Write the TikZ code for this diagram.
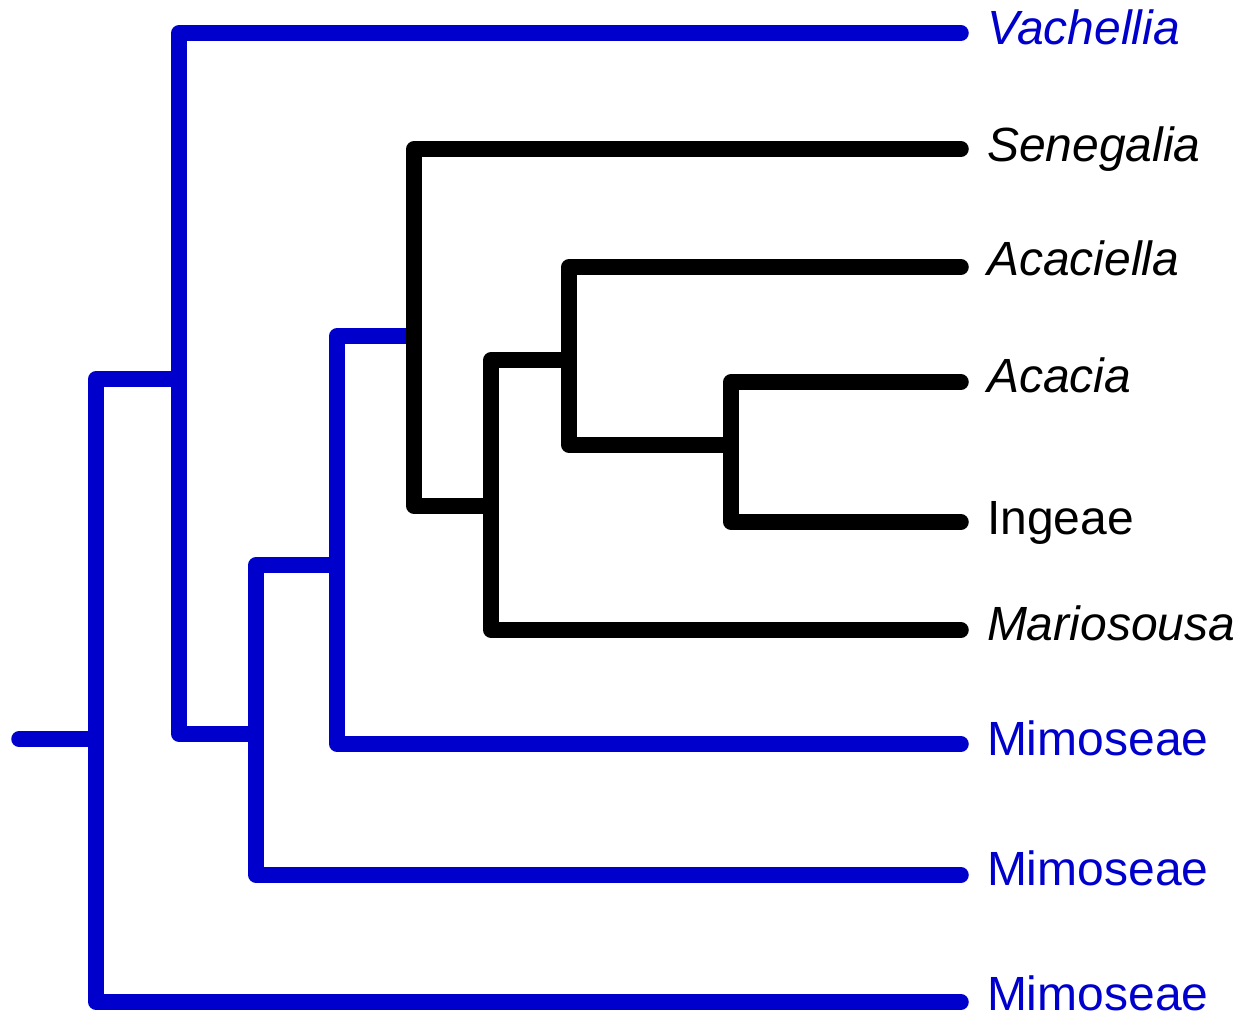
\documentclass[tikz,border=0pt]{standalone}
\usepackage{fontspec}
\setmainfont{Liberation Sans}
\definecolor{treeblue}{RGB}{0,0,205}
\tikzset{
  branch/.style={line width=15.5pt, line cap=round, line join=round},
  bluebranch/.style={branch, draw=treeblue},
  blackbranch/.style={branch, draw=black},
  taxon/.style={anchor=base west, inner sep=0pt, outer sep=0pt, font=\fontsize{48}{57}\selectfont},
}
\begin{document}
\begin{tikzpicture}[x=1pt, y=-1pt]
\useasboundingbox (0,0) rectangle (1241,1016);
% tips
\coordinate (tVach) at (961,33);
\coordinate (tSene) at (961,149);
\coordinate (tAcaciella) at (961,267);
\coordinate (tAcacia) at (961,382);
\coordinate (tIngeae) at (961,522);
\coordinate (tMario) at (961,630);
\coordinate (tMimA) at (961,744);
\coordinate (tMimB) at (961,875);
\coordinate (tMimC) at (961,1002);
% internal nodes (x of vertical, y of stem)
\coordinate (stub) at (19,739);
\coordinate (R) at (96,739);
\coordinate (N1) at (179,379);
\coordinate (N2) at (256,734);
\coordinate (N3) at (337,565);
\coordinate (N4) at (414,336);
\coordinate (N5) at (491,506);
\coordinate (N6) at (569,360);
\coordinate (N7) at (731,445);
% blue part
\draw[bluebranch] (stub) -- (R);
\draw[bluebranch] (N1) -| (R) |- (tMimC);
\draw[bluebranch] (tVach) -| (N1) |- (N2);
\draw[bluebranch] (N3) -| (N2) |- (tMimB);
\draw[bluebranch] (N4) -| (N3) |- (tMimA);
% black part
\draw[blackbranch] (tSene) -| (N4) |- (N5);
\draw[blackbranch] (N6) -| (N5) |- (tMario);
\draw[blackbranch] (tAcaciella) -| (N6) |- (N7);
\draw[blackbranch] (tAcacia) -| (N7) |- (tIngeae);
% labels
\node[taxon, text=treeblue] (lVach) at (987,45) {\itshape Vachellia};
\node[taxon] (lSene) at (987,162) {\itshape Senegalia};
\node[taxon] (lAcaciella) at (987,275) {\itshape Acaciella};
\node[taxon] (lAcacia) at (987,392) {\itshape Acacia};
\node[taxon] (lIngeae) at (987,534) {Ingeae};
\node[taxon] (lMario) at (987,640) {\itshape Mariosousa};
\node[taxon, text=treeblue] (lMimA) at (987,755) {Mimoseae};
\node[taxon, text=treeblue] (lMimB) at (987,885) {Mimoseae};
\node[taxon, text=treeblue] (lMimC) at (987,1010.5) {Mimoseae};
\end{tikzpicture}
\end{document}
